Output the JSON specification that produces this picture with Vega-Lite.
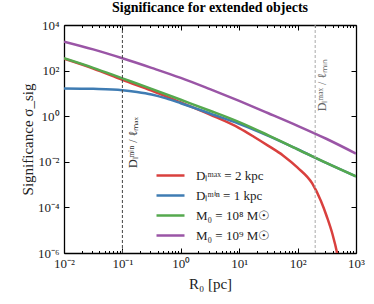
{
  "$schema": "https://vega.github.io/schema/vega-lite/v6.json",
  "width": 292,
  "height": 228,
  "autosize": {"type": "none"},
  "padding": {"left": 64, "top": 25, "right": 18, "bottom": 51},
  "background": "white",
  "title": {"text": "Significance for extended objects", "font": "Liberation Serif", "fontSize": 14, "fontWeight": "bold", "anchor": "middle", "offset": 4, "color": "black"},
  "config": {
    "view": {"stroke": null},
    "font": "Liberation Serif",
    "axis": {"domainColor": "black", "domainWidth": 1.3, "tickColor": "black", "tickWidth": 1, "labelFont": "Liberation Serif", "labelFontSize": 13, "labelColor": "#222", "titleFont": "Liberation Serif", "titleFontWeight": "normal", "titleFontSize": 15, "titleColor": "#222", "grid": false, "labelOverlap": false, "labelFlush": false}
  },
  "datasets": {
    "curves": [
      {"s": "Dₗᵐᵃˣ = 2 kpc", "R": 0.01, "sigma": 331},
      {"s": "Dₗᵐᵃˣ = 2 kpc", "R": 0.0316, "sigma": 123},
      {"s": "Dₗᵐᵃˣ = 2 kpc", "R": 0.1, "sigma": 38.9},
      {"s": "Dₗᵐᵃˣ = 2 kpc", "R": 0.316, "sigma": 13.2},
      {"s": "Dₗᵐᵃˣ = 2 kpc", "R": 1, "sigma": 3.98},
      {"s": "Dₗᵐᵃˣ = 2 kpc", "R": 3.16, "sigma": 1.17},
      {"s": "Dₗᵐᵃˣ = 2 kpc", "R": 10, "sigma": 0.302},
      {"s": "Dₗᵐᵃˣ = 2 kpc", "R": 17.8, "sigma": 0.126},
      {"s": "Dₗᵐᵃˣ = 2 kpc", "R": 31.6, "sigma": 0.0501},
      {"s": "Dₗᵐᵃˣ = 2 kpc", "R": 56.2, "sigma": 0.0191},
      {"s": "Dₗᵐᵃˣ = 2 kpc", "R": 100, "sigma": 0.0055},
      {"s": "Dₗᵐᵃˣ = 2 kpc", "R": 178, "sigma": 0.00112},
      {"s": "Dₗᵐᵃˣ = 2 kpc", "R": 251, "sigma": 0.000191},
      {"s": "Dₗᵐᵃˣ = 2 kpc", "R": 316, "sigma": 0.0000398},
      {"s": "Dₗᵐᵃˣ = 2 kpc", "R": 398, "sigma": 0.0000063},
      {"s": "Dₗᵐᵃˣ = 2 kpc", "R": 479, "sigma": 0.00000089},
      {"s": "Dₗᵐᵃˣ = 2 kpc", "R": 525, "sigma": 0.00000025},
      {"s": "Dₗᵐⁱⁿ = 1 kpc", "R": 0.01, "sigma": 16.6},
      {"s": "Dₗᵐⁱⁿ = 1 kpc", "R": 0.0316, "sigma": 15.8},
      {"s": "Dₗᵐⁱⁿ = 1 kpc", "R": 0.1, "sigma": 13.8},
      {"s": "Dₗᵐⁱⁿ = 1 kpc", "R": 0.178, "sigma": 11.5},
      {"s": "Dₗᵐⁱⁿ = 1 kpc", "R": 0.316, "sigma": 8.91},
      {"s": "Dₗᵐⁱⁿ = 1 kpc", "R": 0.562, "sigma": 6.03},
      {"s": "Dₗᵐⁱⁿ = 1 kpc", "R": 1, "sigma": 3.72},
      {"s": "Dₗᵐⁱⁿ = 1 kpc", "R": 3.16, "sigma": 1.32},
      {"s": "Dₗᵐⁱⁿ = 1 kpc", "R": 10, "sigma": 0.468},
      {"s": "Dₗᵐⁱⁿ = 1 kpc", "R": 31.6, "sigma": 0.138},
      {"s": "Dₗᵐⁱⁿ = 1 kpc", "R": 100, "sigma": 0.0355},
      {"s": "Dₗᵐⁱⁿ = 1 kpc", "R": 316, "sigma": 0.00871},
      {"s": "Dₗᵐⁱⁿ = 1 kpc", "R": 1000, "sigma": 0.00229},
      {"s": "M₀ = 10⁸ M☉", "R": 0.01, "sigma": 347},
      {"s": "M₀ = 10⁸ M☉", "R": 0.0316, "sigma": 132},
      {"s": "M₀ = 10⁸ M☉", "R": 0.1, "sigma": 45.7},
      {"s": "M₀ = 10⁸ M☉", "R": 0.316, "sigma": 15.8},
      {"s": "M₀ = 10⁸ M☉", "R": 1, "sigma": 5.25},
      {"s": "M₀ = 10⁸ M☉", "R": 3.16, "sigma": 1.74},
      {"s": "M₀ = 10⁸ M☉", "R": 10, "sigma": 0.55},
      {"s": "M₀ = 10⁸ M☉", "R": 31.6, "sigma": 0.145},
      {"s": "M₀ = 10⁸ M☉", "R": 100, "sigma": 0.0355},
      {"s": "M₀ = 10⁸ M☉", "R": 316, "sigma": 0.00871},
      {"s": "M₀ = 10⁸ M☉", "R": 1000, "sigma": 0.00229},
      {"s": "M₀ = 10⁹ M☉", "R": 0.01, "sigma": 1862},
      {"s": "M₀ = 10⁹ M☉", "R": 0.0316, "sigma": 851},
      {"s": "M₀ = 10⁹ M☉", "R": 0.1, "sigma": 347},
      {"s": "M₀ = 10⁹ M☉", "R": 0.316, "sigma": 132},
      {"s": "M₀ = 10⁹ M☉", "R": 1, "sigma": 47.9},
      {"s": "M₀ = 10⁹ M☉", "R": 3.16, "sigma": 15.3},
      {"s": "M₀ = 10⁹ M☉", "R": 10, "sigma": 4.68},
      {"s": "M₀ = 10⁹ M☉", "R": 31.6, "sigma": 1.35},
      {"s": "M₀ = 10⁹ M☉", "R": 100, "sigma": 0.38},
      {"s": "M₀ = 10⁹ M☉", "R": 316, "sigma": 0.1},
      {"s": "M₀ = 10⁹ M☉", "R": 1000, "sigma": 0.0229}
    ],
    "vlines": [
      {"R": 0.1, "kind": "min"},
      {"R": 200, "kind": "max"}
    ],
    "notes": [
      {"R": 0.151, "sigma": 0.07, "label": "Dₗᵐⁱⁿ / ℓₘₐₓ"},
      {"R": 260, "sigma": 23, "label": "Dₗᵐᵃˣ / ℓₘᵢₙ"}
    ]
  },
  "layer": [
    {
      "data": {"name": "curves"},
      "mark": {"type": "line", "strokeWidth": 2.5, "clip": true, "interpolate": "monotone"},
      "encoding": {
        "x": {
          "field": "R", "type": "quantitative",
          "scale": {"type": "log", "domain": [0.01, 1000], "nice": false},
          "axis": {
            "orient": "bottom",
            "values": [0.01,0.02,0.03,0.04,0.05,0.06,0.07,0.08,0.09,0.1,0.2,0.3,0.4,0.5,0.6,0.7,0.8,0.9,1,2,3,4,5,6,7,8,9,10,20,30,40,50,60,70,80,90,100,200,300,400,500,600,700,800,900,1000],
            "labelExpr": "datum.value == 0.01 ? '10⁻²' : datum.value == 0.1 ? '10⁻¹' : datum.value == 1 ? '10⁰' : datum.value == 10 ? '10¹' : datum.value == 100 ? '10²' : datum.value == 1000 ? '10³' : ''",
            "tickSize": {"condition": {"test": "indexof([0.01,0.1,1,10,100,1000], datum.value) >= 0", "value": -5}, "value": -2.5},
            "labelPadding": 9,
            "title": "R₀ [pc]",
            "titlePadding": 4
          }
        },
        "y": {
          "field": "sigma", "type": "quantitative",
          "scale": {"type": "log", "domain": [0.000001, 10000], "nice": false},
          "axis": {
            "orient": "left",
            "values": [0.000001, 0.0001, 0.01, 1, 100, 10000],
            "labelExpr": "datum.value < 0.00001 ? '10⁻⁶' : datum.value < 0.001 ? '10⁻⁴' : datum.value < 0.1 ? '10⁻²' : datum.value < 10 ? '10⁰' : datum.value < 1000 ? '10²' : '10⁴'",
            "tickSize": -5,
            "labelPadding": 10,
            "title": "Significance σ_sig",
            "titlePadding": 2
          }
        },
        "color": {
          "field": "s", "type": "nominal",
          "scale": {"domain": ["Dₗᵐᵃˣ = 2 kpc", "Dₗᵐⁱⁿ = 1 kpc", "M₀ = 10⁸ M☉", "M₀ = 10⁹ M☉"], "range": ["#d9403e", "#3f7cb3", "#55a94e", "#9a55a6"]},
          "legend": {"title": null, "orient": "none", "legendX": 95, "legendY": 139, "symbolType": "M-1.4,0H1.4", "symbolSize": 400, "symbolStrokeWidth": 2.5, "labelFont": "Liberation Serif", "labelFontSize": 13, "labelOffset": 14, "rowPadding": 1, "padding": 0, "labelColor": "#222"}
        }
      }
    },
    {
      "data": {"name": "vlines"},
      "transform": [{"filter": "datum.kind == 'min'"}],
      "mark": {"type": "rule", "color": "#444", "strokeDash": [3, 2], "strokeWidth": 1},
      "encoding": {
        "x": {
          "field": "R", "type": "quantitative",
          "axis": {
            "orient": "top",
            "values": [0.01,0.02,0.03,0.04,0.05,0.06,0.07,0.08,0.09,0.1,0.2,0.3,0.4,0.5,0.6,0.7,0.8,0.9,1,2,3,4,5,6,7,8,9,10,20,30,40,50,60,70,80,90,100,200,300,400,500,600,700,800,900,1000],
            "labels": false,
            "title": null,
            "tickSize": {"condition": {"test": "indexof([0.01,0.1,1,10,100,1000], datum.value) >= 0", "value": -5}, "value": -2.5}
          }
        }
      }
    },
    {
      "data": {"name": "vlines"},
      "transform": [{"filter": "datum.kind == 'max'"}],
      "mark": {"type": "rule", "color": "#aaa", "strokeDash": [3, 2], "strokeWidth": 1},
      "encoding": {
        "x": {"field": "R", "type": "quantitative", "axis": null}
      }
    },
    {
      "data": {"name": "notes"},
      "mark": {"type": "text", "angle": 270, "align": "center", "baseline": "middle", "font": "Liberation Serif", "fontSize": 12},
      "encoding": {
        "x": {"field": "R", "type": "quantitative", "axis": null},
        "y": {
          "field": "sigma", "type": "quantitative",
          "axis": {"orient": "right", "values": [0.000001, 0.0001, 0.01, 1, 100, 10000], "labels": false, "title": null, "tickSize": -5}
        },
        "text": {"field": "label"},
        "color": {"condition": {"test": "datum.R > 1", "value": "#666"}, "value": "#333"}
      }
    }
  ],
  "resolve": {"axis": {"x": "independent", "y": "independent"}}
}
